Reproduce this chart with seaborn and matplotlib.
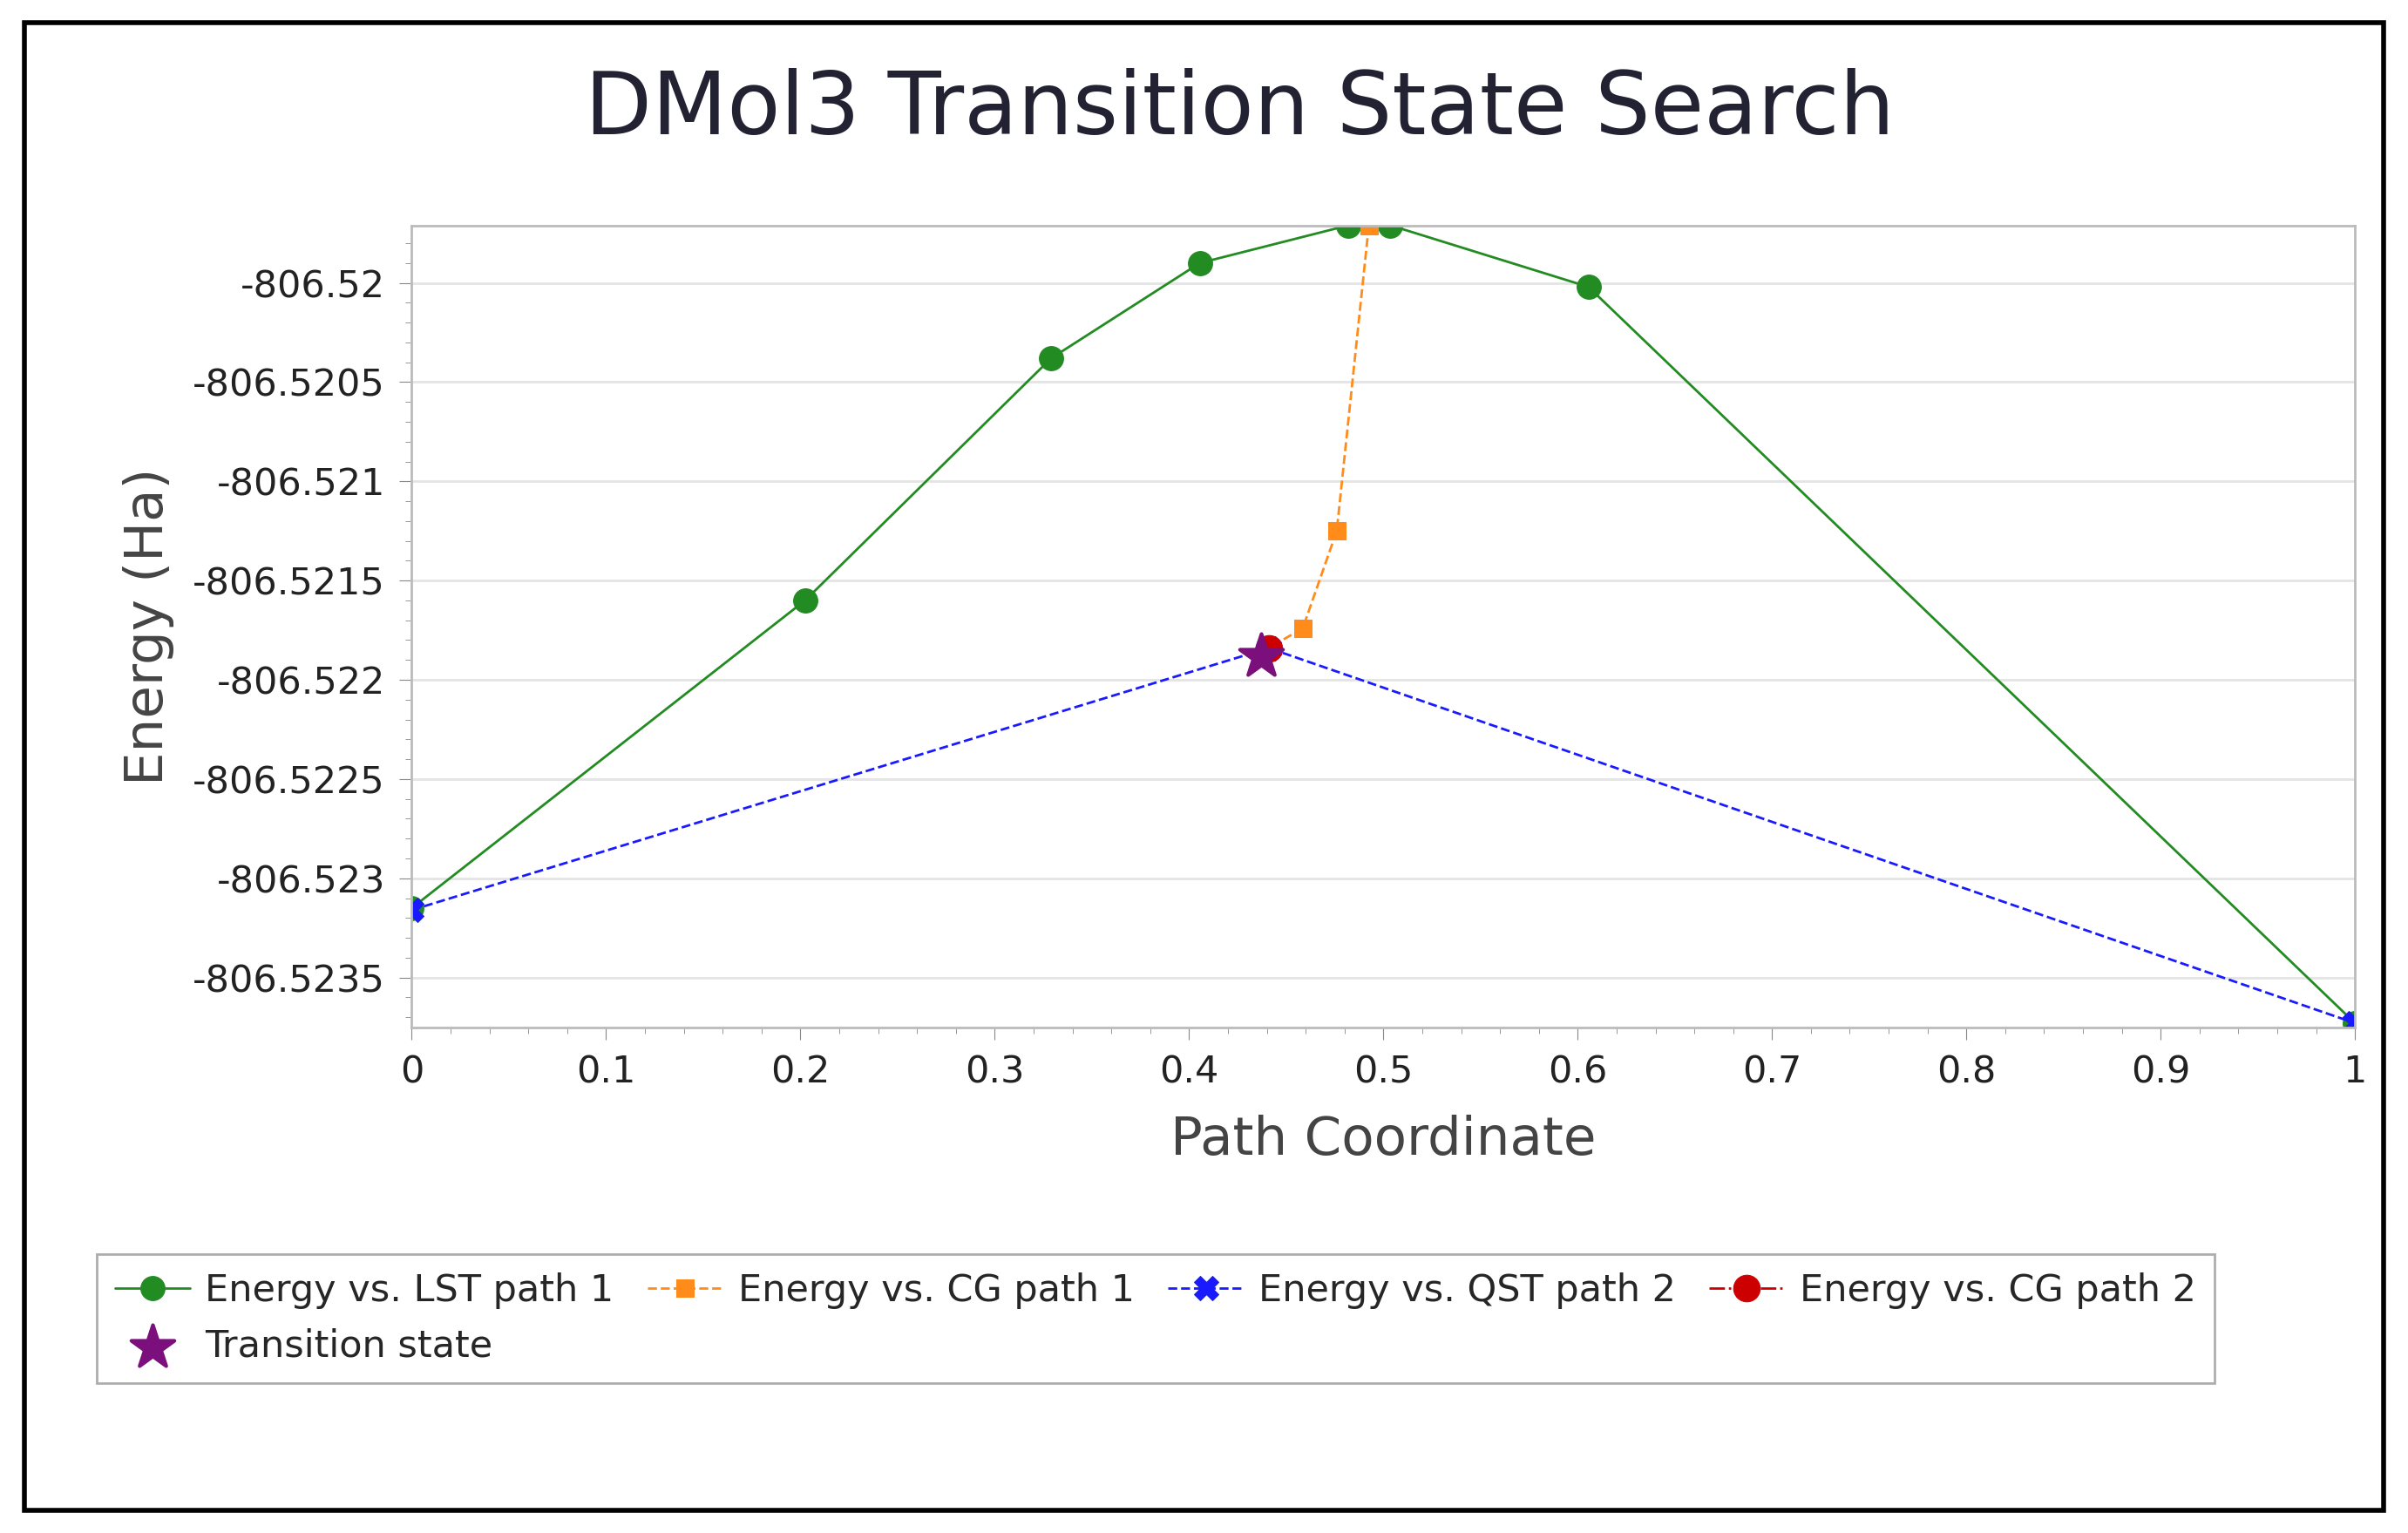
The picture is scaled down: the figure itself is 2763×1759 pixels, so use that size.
import matplotlib
matplotlib.use("Agg")
import matplotlib.pyplot as plt
import matplotlib.ticker as mticker
from matplotlib.patches import Rectangle
import seaborn as sns
import pandas as pd

# Values
lst_x = [0.0, 0.2024, 0.329, 0.4055, 0.482, 0.5036, 0.6055, 1.0]
lst_y = [-806.52315, -806.52160, -806.52038, -806.51990, -806.51971, -806.51971, -806.52002, -806.52373]
cg1_x = [0.4925, 0.476, 0.4585, 0.441]
cg1_y = [-806.51971, -806.52125, -806.52174, -806.52184]
qst_x = [0.0, 0.441, 1.0]
qst_y = [-806.52316, -806.52184, -806.52373]
cg2_x = [0.441]
cg2_y = [-806.52184]
ts_x = [0.437]
ts_y = [-806.52188]

sns.set_style("white")
plt.rcParams["font.family"] = ["DejaVu Sans"]

fig = plt.figure(figsize=(27.63, 17.59), dpi=100)
ax = fig.add_axes([0.171, 0.33, 0.807, 0.523])

sns.lineplot(x=lst_x, y=lst_y, ax=ax, sort=False, color="#228B22", lw=2,
             marker="o", markersize=20, markeredgecolor="#228B22",
             label="Energy vs. LST path 1")
sns.lineplot(x=cg1_x, y=cg1_y, ax=ax, sort=False, color="#FF8C1A", lw=2,
             linestyle="--", marker="s", markersize=15, markeredgecolor="#FF8C1A",
             label="Energy vs. CG path 1")
sns.lineplot(x=qst_x, y=qst_y, ax=ax, sort=False, color="#1A1AFF", lw=2,
             linestyle="--", marker="X", markersize=20, markeredgecolor="#1A1AFF",
             label="Energy vs. QST path 2")
sns.lineplot(x=cg2_x, y=cg2_y, ax=ax, sort=False, color="#CC0000", lw=2,
             linestyle="-.", marker="o", markersize=22, markeredgecolor="#CC0000",
             label="Energy vs. CG path 2")
sns.scatterplot(x=ts_x, y=ts_y, ax=ax, color="#7B0F7B", marker="*", s=1400,
                edgecolor="#7B0F7B", label="Transition state", zorder=5)

ax.set_xlim(0, 1)
ax.set_ylim(-806.52375, -806.51971)
ax.xaxis.set_major_locator(mticker.MultipleLocator(0.1))
ax.xaxis.set_minor_locator(mticker.MultipleLocator(0.02))
ax.yaxis.set_major_locator(mticker.MultipleLocator(0.0005))
ax.yaxis.set_minor_locator(mticker.MultipleLocator(0.0001))
ax.xaxis.set_major_formatter(mticker.FuncFormatter(lambda v, p: f"{v:.1f}".rstrip("0").rstrip(".") if v else "0"))
ax.yaxis.set_major_formatter(mticker.FuncFormatter(lambda v, p: f"{v:.4f}".rstrip("0").rstrip(".")))
ax.tick_params(axis="both", which="major", labelsize=31, length=10, color="#888888", colors="#222222", pad=12)
ax.tick_params(axis="both", which="minor", length=5, color="#888888")
ax.tick_params(bottom=True, left=True, which="both")
ax.grid(axis="y", color="#e4e4e4", lw=2)
for s in ax.spines.values():
    s.set_color("#bbbbbb")
    s.set_linewidth(2)

ax.set_xlabel("Path Coordinate", fontsize=44, color="#444444", labelpad=20)
ax.set_ylabel("Energy (Ha)", fontsize=44, color="#444444", labelpad=15)
fig.text(0.515, 0.928, "DMol3 Transition State Search", ha="center", va="center",
         fontsize=72, color="#222233")

handles, labels = ax.get_legend_handles_labels()
ax.legend_.remove()
order = [0, 4, 1, 2, 3]  # column-major fill -> first row LST, CG1, QST, CG2
leg = fig.legend([handles[i] for i in order], [labels[i] for i in order], ncol=4,
                 loc="upper left", bbox_to_anchor=(0.04, 0.182),
                 fontsize=31, frameon=True, fancybox=False, edgecolor="#999999",
                 handlelength=2.0, handletextpad=0.4, columnspacing=0.9,
                 borderpad=0.5, labelspacing=0.5, borderaxespad=0)
leg.get_frame().set_linewidth(2)

fig.patches.append(Rectangle((0.01, 0.015), 0.98, 0.97, transform=fig.transFigure,
                             fill=False, edgecolor="black", lw=4))

fig.savefig("out.png", dpi=100)
